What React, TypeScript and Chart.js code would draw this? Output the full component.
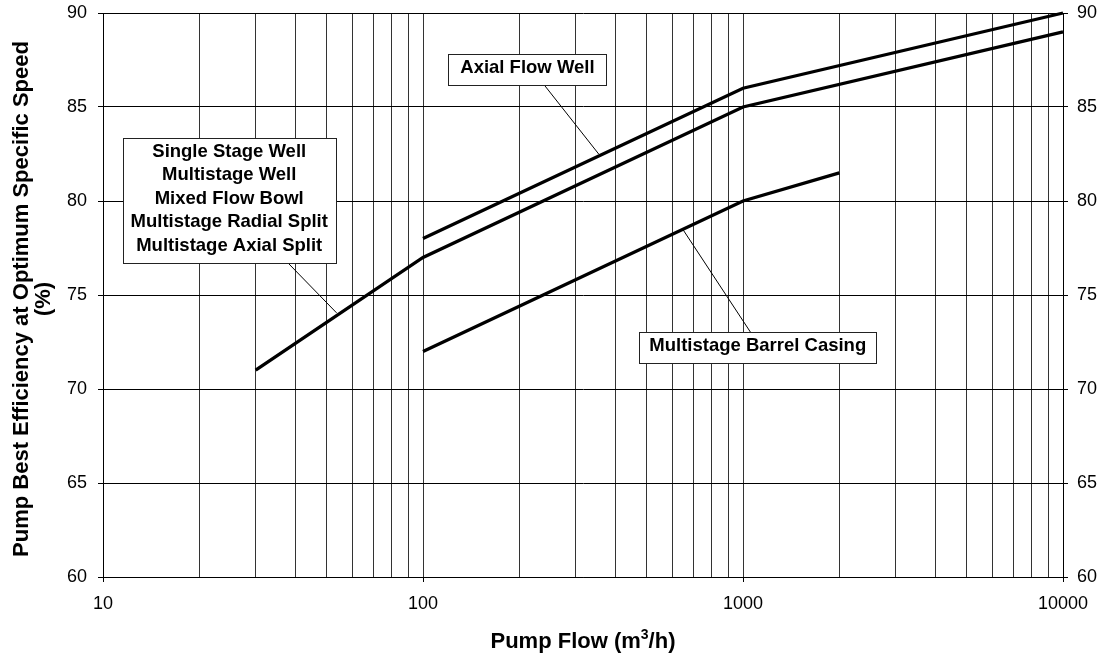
import React, { useEffect, useRef } from "react";
import { Chart, registerables } from "chart.js";

Chart.register(...registerables);

// ---------- data ----------
const X_TICKS = [
  10, 20, 30, 40, 50, 60, 70, 80, 90,
  100, 200, 300, 400, 500, 600, 700, 800, 900,
  1000, 2000, 3000, 4000, 5000, 6000, 7000, 8000, 9000,
  10000,
];
const X_LABELED = [10, 100, 1000, 10000];
const Y_MIN = 60;
const Y_MAX = 90;
const Y_STEP = 5;

const AXIAL_FLOW = [100, 1000, 10000];
const AXIAL_EFF = [78, 86, 90];

const MULTI_FLOW = [30, 100, 1000, 10000];
const MULTI_EFF = [71, 77, 85, 89];

const BARREL_FLOW = [100, 1000, 2000];
const BARREL_EFF = [72, 80, 81.5];

const MULTI_LABELS = [
  "Single Stage Well",
  "Multistage Well",
  "Mixed Flow Bowl",
  "Multistage Radial Split",
  "Multistage Axial Split",
];
const AXIAL_LABELS = ["Axial Flow Well"];
const BARREL_LABELS = ["Multistage Barrel Casing"];

const X_TITLE_PARTS = ["Pump Flow (m", "3", "/h)"];
const Y_TITLE_LINES = ["Pump Best Efficiency at Optimum Specific Speed", "(%)"];

// annotation anchors, in data coordinates (flow, efficiency)
const ANNOTATIONS = [
  { lines: MULTI_LABELS, centerFlow: 24.8, topEff: 83.36, padX: 8, leaderSide: "bottom", leaderFromFlow: 38.0, leaderToFlow: 53.7, leaderToEff: 74.05 },
  { lines: AXIAL_LABELS, centerFlow: 212, topEff: 87.81, padX: 12, leaderSide: "bottom", leaderFromFlow: 240, leaderToFlow: 354, leaderToEff: 82.5 },
  { lines: BARREL_LABELS, centerFlow: 1112, topEff: 73.04, padX: 10, leaderSide: "top", leaderFromFlow: 1057, leaderToFlow: 648, leaderToEff: 78.5 },
];

const FONT = "'Liberation Sans', Arial, Helvetica, sans-serif";
const ANN_FONT_SIZE = 18.5;
const ANN_BASE_OFF = 18;
const ANN_PITCH = 23.5;
const ANN_BOTTOM = 13;

const annotationPlugin = {
  id: "boxAnnotations",
  afterDatasetsDraw(chart: any) {
    const { ctx } = chart;
    const x = chart.scales.x;
    const y = chart.scales.y;
    ctx.save();
    ctx.font = `bold ${ANN_FONT_SIZE}px ${FONT}`;
    for (const a of ANNOTATIONS) {
      const cx = x.getPixelForValue(a.centerFlow);
      const top = Math.round(y.getPixelForValue(a.topEff)) + 0.5;
      const w = Math.round(Math.max(...a.lines.map((l) => ctx.measureText(l).width)) + 2 * a.padX);
      const h = Math.round(ANN_BASE_OFF + ANN_PITCH * (a.lines.length - 1) + ANN_BOTTOM);
      const left = Math.round(cx - w / 2) + 0.5;
      // leader line
      const fx = x.getPixelForValue(a.leaderFromFlow);
      const fy = a.leaderSide === "bottom" ? top + h : top;
      const tx = x.getPixelForValue(a.leaderToFlow);
      const ty = y.getPixelForValue(a.leaderToEff);
      ctx.strokeStyle = "#000";
      ctx.lineWidth = 1;
      ctx.beginPath();
      ctx.moveTo(fx, fy);
      ctx.lineTo(tx, ty);
      ctx.stroke();
      // box
      ctx.fillStyle = "#fff";
      ctx.fillRect(left, top, w, h);
      ctx.strokeStyle = "#222";
      ctx.strokeRect(left, top, w, h);
      // text
      ctx.fillStyle = "#000";
      ctx.textAlign = "center";
      ctx.textBaseline = "alphabetic";
      a.lines.forEach((l, i) => ctx.fillText(l, cx, top + ANN_BASE_OFF + ANN_PITCH * i));
    }
    ctx.restore();
  },
};

const titlesPlugin = {
  id: "axisTitles",
  afterDraw(chart: any) {
    const { ctx, chartArea } = chart;
    ctx.save();
    ctx.fillStyle = "#000";
    // x title with superscript
    const big = `bold 22px ${FONT}`;
    const small = `bold 14px ${FONT}`;
    ctx.font = big;
    const w0 = ctx.measureText(X_TITLE_PARTS[0]).width;
    const w2 = ctx.measureText(X_TITLE_PARTS[2]).width;
    ctx.font = small;
    const w1 = ctx.measureText(X_TITLE_PARTS[1]).width;
    const total = w0 + w1 + w2;
    const cx = (chartArea.left + chartArea.right) / 2;
    let px = cx - total / 2;
    const base = 648;
    ctx.textAlign = "left";
    ctx.textBaseline = "alphabetic";
    ctx.font = big;
    ctx.fillText(X_TITLE_PARTS[0], px, base);
    px += w0;
    ctx.font = small;
    ctx.fillText(X_TITLE_PARTS[1], px, base - 9);
    px += w1;
    ctx.font = big;
    ctx.fillText(X_TITLE_PARTS[2], px, base);
    // y title (rotated)
    const cy = (chartArea.top + chartArea.bottom) / 2 + 4;
    const baselines = [28, 50];
    ctx.textAlign = "center";
    Y_TITLE_LINES.forEach((l, i) => {
      ctx.save();
      ctx.translate(baselines[i], cy);
      ctx.rotate(-Math.PI / 2);
      ctx.fillText(l, 0, 0);
      ctx.restore();
    });
    ctx.restore();
  },
};

function pts(xs: number[], ys: number[]) {
  return xs.map((v, i) => ({ x: v, y: ys[i] }));
}

export default function App() {
  const ref = useRef<HTMLCanvasElement | null>(null);

  useEffect(() => {
    if (!ref.current) return;
    const lineStyle = {
      borderColor: "#000",
      borderWidth: 3.3,
      pointRadius: 0,
      tension: 0,
      fill: false,
      clip: false as any,
      borderCapStyle: "butt" as const,
      borderJoinStyle: "miter" as const,
    };
    const xTickFont = { family: FONT, size: 18 };
    const yTickFont = { family: FONT, size: 18, lineHeight: 0.2 };
    const chart = new Chart(ref.current, {
      type: "line",
      data: {
        datasets: [
          { label: "Axial Flow Well", data: pts(AXIAL_FLOW, AXIAL_EFF), ...lineStyle },
          { label: "Multistage", data: pts(MULTI_FLOW, MULTI_EFF), ...lineStyle },
          { label: "Multistage Barrel Casing", data: pts(BARREL_FLOW, BARREL_EFF), ...lineStyle },
        ],
      },
      options: {
        animation: false,
        responsive: false,
        devicePixelRatio: 1,
        layout: { padding: { top: 13, left: 0, right: 0, bottom: 0 } },
        plugins: { legend: { display: false }, tooltip: { enabled: false }, title: { display: false } },
        scales: {
          x: {
            type: "logarithmic",
            position: "bottom",
            min: 10,
            max: 10000,
            afterBuildTicks: (scale: any) => {
              scale.ticks = X_TICKS.map((v) => ({ value: v, major: false }));
            },
            afterFit: (scale: any) => {
              scale.height = 82;
            },
            ticks: {
              autoSkip: false,
              maxRotation: 0,
              minRotation: 0,
              padding: 11,
              color: "#000",
              font: xTickFont,
              callback: (value: any) => (X_LABELED.includes(Number(value)) ? String(value) : ""),
            },
            grid: {
              color: "#333",
              lineWidth: 1,
              drawTicks: true,
              tickLength: 5,
              tickColor: (c: any) => (c.tick && X_LABELED.includes(c.tick.value) ? "#000" : "rgba(0,0,0,0)"),
            },
            border: { display: true, color: "#000", width: 1 },
          },
          y: {
            type: "linear",
            position: "left",
            min: Y_MIN,
            max: Y_MAX,
            afterFit: (scale: any) => {
              scale.width = 103;
            },
            ticks: { stepSize: Y_STEP, padding: 11, color: "#000", font: yTickFont },
            grid: { color: "#000", lineWidth: 1, drawTicks: true, tickLength: 5, tickColor: "#000" },
            border: { display: true, color: "#000", width: 1 },
          },
          y2: {
            type: "linear",
            position: "right",
            min: Y_MIN,
            max: Y_MAX,
            afterFit: (scale: any) => {
              scale.width = 42;
            },
            ticks: { stepSize: Y_STEP, padding: 9, color: "#000", font: yTickFont },
            grid: { drawOnChartArea: false, drawTicks: true, tickLength: 5, tickColor: "#000", color: "#000" },
            border: { display: true, color: "#000", width: 1 },
          },
        },
      },
      plugins: [annotationPlugin, titlesPlugin],
    });
    return () => chart.destroy();
  }, []);

  return (
    <div style={{ position: "absolute", left: 0, top: 0, width: 1105, height: 659, background: "#fff" }}>
      <canvas ref={ref} width={1105} height={659} style={{ display: "block", width: 1105, height: 659 }} />
    </div>
  );
}
